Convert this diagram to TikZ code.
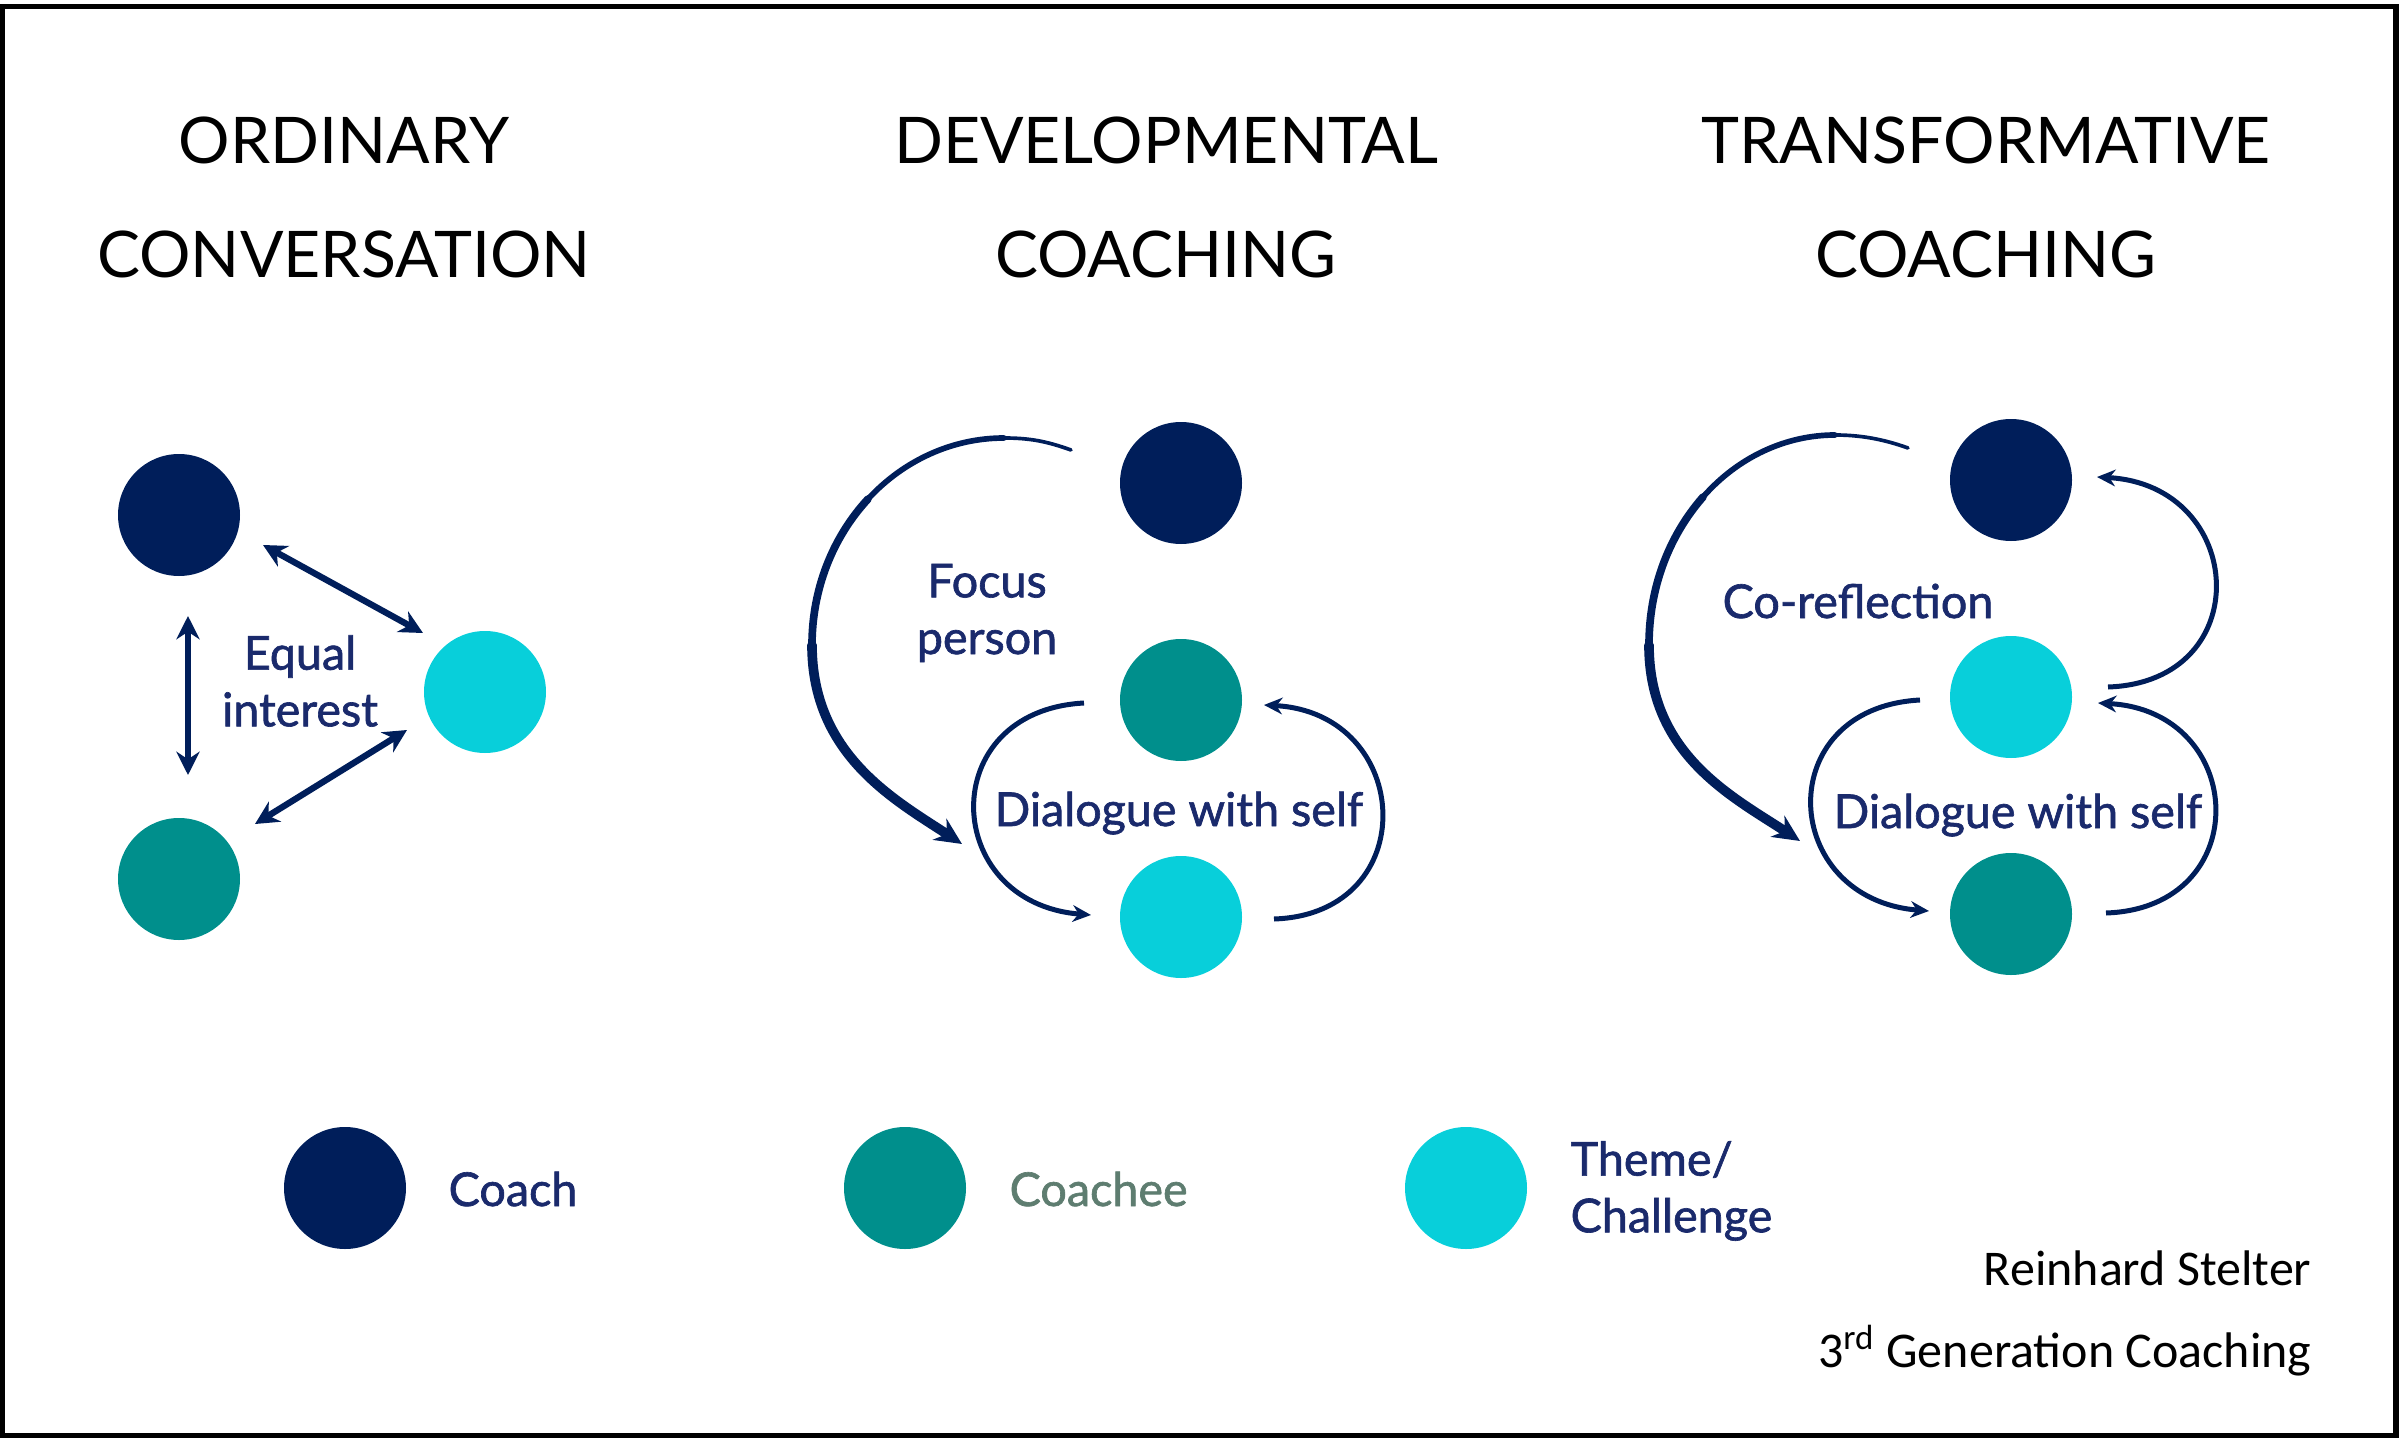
\documentclass[tikz,border=0pt]{standalone}
\usepackage{fontspec}
\setmainfont{Lato}
\newfontfamily\carlito{Carlito}
\newfontfamily\latolbl[FakeBold=1.4]{Lato}
\usetikzlibrary{arrows.meta, calc}
\definecolor{CoachNavy}{HTML}{001E5A}
\definecolor{CoacheeTeal}{HTML}{008F8C}
\definecolor{ThemeCyan}{HTML}{08CFDA}
\definecolor{LabelNavy}{HTML}{1A2A6C}
\definecolor{CoacheeGrey}{HTML}{5E7D70}
\newcommand{\headfont}{\fontsize{19.3}{34.2}\selectfont}
\newcommand{\lblfont}{\latolbl\fontsize{14}{17}\selectfont}
\newcommand{\creditfont}{\carlito\fontsize{15}{18}\selectfont}

\begin{document}
\begin{tikzpicture}[x=0.3pt, y=-0.3pt,
    person/.style={circle, inner sep=0pt, minimum size=36.6pt},
    coach/.style={person, fill=CoachNavy},
    coachee/.style={person, fill=CoacheeTeal},
    theme/.style={person, fill=ThemeCyan},
    head/.style={align=center, inner sep=0pt, font=\headfont},
    lbl/.style={inner sep=0pt, text=LabelNavy, font=\lblfont},
    credit/.style={inner sep=0pt, font=\creditfont},
    twoway/.style={draw=CoachNavy, line width=1.9pt,
      {Stealth[length=7pt, width=7pt]}-{Stealth[length=7pt, width=7pt]}},
    selfarc/.style={draw=CoachNavy, line width=1.5pt, -{Stealth[length=5.5pt, width=5pt]}},
    sweep/.style={draw=CoachNavy, line cap=round}]
    \useasboundingbox (0,0) rectangle (2401,1440);
    % frame
    \draw[line width=1.6pt] (2.5,6.5) rectangle (2396,1435.5);
    % headings
    \node[head] (hord) at (344,197) {ORDINARY\\CONVERSATION};
    \node[head] (hdev) at (1166,197) {DEVELOPMENTAL\\COACHING};
    \node[head] (htra) at (1986,197) {TRANSFORMATIVE\\COACHING};

    % ordinary conversation: everybody talks to everybody
    \node[coach] (ocoach) at (179,515){};
    \node[theme] (otheme) at (485,692){};
    \node[coachee] (ocoachee) at (179,879){};
    \draw[twoway] ($(ocoach)+(9,101)$) -- ($(ocoachee)+(9,-104)$);
    \draw[twoway] ($(ocoach)+(84,30)$) -- ($(otheme)+(-62,-59)$);
    \draw[twoway] ($(ocoachee)+(76,-55)$) -- ($(otheme)+(-78,38)$);
    \node[lbl, align=center] (oequal) at (300,681) {Equal\\interest};

    % developmental coaching: coach sweeps onto the coachee's loop
    \node[coach] (dcoach) at (1181,483){};
    \node[coachee] (dcoachee) at (1181,700){};
    \node[theme] (dtheme) at (1181,917){};
    \coordinate (dswA) at ($(dcoach)+(-110,-33)$);
    \coordinate (dswB) at ($(dcoach)+(-177,-45)$);
    \coordinate (dswM) at ($(dcoach)+(-313,16)$);
    \coordinate (dswC) at ($(dcoach)+(-369,162)$);
    \coordinate (dswD) at ($(dcoach)+(-219,361)$);
    % widening sweep, drawn piece by piece
    \draw[sweep, line width=1.1pt] (dswA) .. controls +(-25,-9) and +(25,0) .. (dswB);
    \draw[sweep, line width=1.7pt] (dswB) .. controls +(-51,0) and +(36,-39) .. (dswM);
    \draw[sweep, line width=2.3pt] (dswM) .. controls +(-36,39) and +(0,-55) .. (dswC);
    \draw[sweep, line width=2.9pt, -{Stealth[length=8pt, width=7.5pt]}]
      (dswC) .. controls +(0,110) and +(-67,-44) .. (dswD);
    \draw[selfarc] ($(dcoachee)+(-97,3)$) .. controls +(-150,8) and +(-150,-12) .. ($(dtheme)+(-90,-2)$);
    \draw[selfarc] ($(dtheme)+(93,2)$) .. controls +(150,-5) and +(150,8) .. ($(dcoachee)+(83,5)$);
    \node[lbl, align=center] (dfocus) at (987,613) {Focus\\person};
    \node[lbl, anchor=base] (ddialogue) at (1179,826) {Dialogue with self};

    % transformative coaching: theme feeds back to the coach
    \node[coach] (tcoach) at (2011,480){};
    \node[theme] (ttheme) at (2011,697){};
    \node[coachee] (tcoachee) at (2011,914){};
    \coordinate (tswA) at ($(tcoach)+(-103,-32)$);
    \coordinate (tswB) at ($(tcoach)+(-176,-45)$);
    \coordinate (tswM) at ($(tcoach)+(-308,17)$);
    \coordinate (tswC) at ($(tcoach)+(-362,165)$);
    \coordinate (tswD) at ($(tcoach)+(-211,361)$);
    \draw[sweep, line width=1.1pt] (tswA) .. controls +(-25,-9) and +(25,0) .. (tswB);
    \draw[sweep, line width=1.7pt] (tswB) .. controls +(-49,0) and +(35,-40) .. (tswM);
    \draw[sweep, line width=2.3pt] (tswM) .. controls +(-35,40) and +(0,-56) .. (tswC);
    \draw[sweep, line width=2.9pt, -{Stealth[length=8pt, width=7.5pt]}]
      (tswC) .. controls +(0,110) and +(-67,-44) .. (tswD);
    \draw[selfarc] ($(ttheme)+(97,-10)$) .. controls +(150,-5) and +(150,8) .. ($(tcoach)+(86,-3)$);
    \draw[selfarc] ($(ttheme)+(-91,3)$) .. controls +(-150,8) and +(-150,-12) .. ($(tcoachee)+(-82,-3)$);
    \draw[selfarc] ($(tcoachee)+(95,-1)$) .. controls +(150,-5) and +(150,8) .. ($(ttheme)+(87,6)$);
    \node[lbl, anchor=base] (tcorefl) at (1858,618) {Co-reflection};
    \node[lbl, anchor=base] (tdialogue) at (2018,828) {Dialogue with self};

    % legend
    \node[coach] (lcoach) at (345,1188){};
    \node[coachee] (lcoachee) at (905,1188){};
    \node[theme] (ltheme) at (1466,1188){};
    \node[lbl, anchor=base west] (lcoachtxt) at (448,1206) {Coach};
    \node[lbl, anchor=base west, text=CoacheeGrey] (lcoacheetxt) at (1009,1206) {Coachee};
    \node[lbl, anchor=west, align=left] (lthemetxt) at (1570,1191) {Theme/\\Challenge};

    % source
    \node[credit, anchor=base east] (cauthor) at (2312,1285) {Reinhard Stelter};
    \node[credit, anchor=base east] (cbook) at (2312,1367) {3\textsuperscript{rd} Generation Coaching};
\end{tikzpicture}
\end{document}
